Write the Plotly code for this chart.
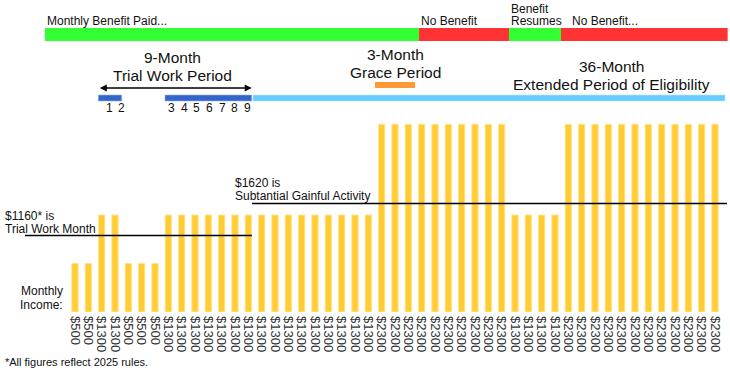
import plotly.graph_objects as go
import numpy as np

# ---------------- data ----------------
months = list(range(1, 50))
income = [500, 500, 1300, 1300, 500, 500, 500,
          1300, 1300, 1300, 1300, 1300, 1300, 1300, 1300,
          1300, 1300, 1300, 1300, 1300, 1300, 1300, 1300,
          2300, 2300, 2300, 2300, 2300, 2300, 2300, 2300, 2300, 2300,
          1300, 1300, 1300, 1300,
          2300, 2300, 2300, 2300, 2300, 2300, 2300, 2300, 2300, 2300, 2300, 2300]
tick_labels = [f"${v}" for v in income]

# schematic (not-to-scale) vertical scale used by the diagram
scale_dollars = [0, 500, 1160, 1300, 1620, 2300]
scale_height = [0, 1.0, 1.577, 2.0, 2.237, 3.87]

# threshold lines (value, month span)
threshold_values = [1160, 1620]
threshold_start = [-2.75, 14.27]
threshold_end = [14.27, 49.9]
threshold_text = [["$1160* is", "Trial Work Month"], ["$1620 is", "Subtantial Gainful Activity"]]

# benefit status strip (month spans)
status_labels = [["Monthly Benefit Paid..."], ["No Benefit"], ["Benefit", "Resumes"], ["No Benefit..."]]
status_start = [-1.25, 26.8, 33.55, 37.45]
status_end = [26.8, 33.55, 37.45, 49.95]
status_colors = ["#33FF33", "#FF3333", "#33FF33", "#FF3333"]

# periods (month spans)
twp_start = [2.75, 7.75]
twp_end = [4.5, 14.25]
twp_numbers = [["1", "2"], ["3", "4", "5", "6", "7", "8", "9"]]
grace_start, grace_end = 23.5, 26.5
epe_start, epe_end = 14.35, 49.75

# ---------------- figure ----------------
W, H = 730, 370
BASE = 312  # pixel row of the bar baseline (plot bottom)
FONT = "Liberation Sans, Arial, sans-serif"


def to_height(v):
    return np.interp(v, scale_dollars, scale_height)


def py(p):  # pixel row -> paper y
    return (BASE - p) / BASE


def pxx(p):  # pixel column -> paper x
    return p / W


fig = go.Figure()
fig.add_trace(go.Bar(
    x=months, y=to_height(income), width=0.47,
    marker=dict(color="#FFCC33", line=dict(color="#FFE38F", width=1)),
    hoverinfo="skip", showlegend=False))

shapes = []
ann = []


def text(x, y, s, size=12, xanchor="left", xref="paper", xshift=0):
    ann.append(dict(x=x, y=py(y), xref=xref, yref="paper", text=s, showarrow=False,
                    xanchor=xanchor, yanchor="middle", xshift=xshift,
                    font=dict(family=FONT, size=size, color="#111")))


# threshold lines
for v, a, b in zip(threshold_values, threshold_start, threshold_end):
    hv = float(to_height(v))
    shapes.append(dict(type="line", xref="x", yref="y", x0=a, x1=b, y0=hv, y1=hv,
                       line=dict(color="#000", width=1.3)))
text(pxx(3), 215.5, threshold_text[0][0])
text(pxx(3), 229, threshold_text[0][1])
text(pxx(233), 183, threshold_text[1][0])
text(pxx(233), 196, threshold_text[1][1])

# status strip
for a, b, c in zip(status_start, status_end, status_colors):
    shapes.append(dict(type="rect", xref="x", yref="paper", x0=a, x1=b, y0=py(41), y1=py(28),
                       fillcolor=c, line=dict(width=0), layer="above"))
shifts = [0, 0, 0, 9]
for a, lines, sh in zip(status_start, status_labels, shifts):
    if len(lines) == 1:
        text(a, 21, lines[0], xref="x", xshift=sh)
    else:
        text(a, 8.5, lines[0], xref="x", xshift=sh)
        text(a, 21, lines[1], xref="x", xshift=sh)

# trial work period bars, EPE and grace period
for a, b in zip(twp_start, twp_end):
    shapes.append(dict(type="rect", xref="x", yref="paper", x0=a, x1=b, y0=py(101), y1=py(95),
                       fillcolor="#3366CC", line=dict(color="#99B3E6", width=0.6), layer="above"))
shapes.append(dict(type="rect", xref="x", yref="paper", x0=epe_start, x1=epe_end, y0=py(101), y1=py(95),
                   fillcolor="#66CCFF", line=dict(color="#B3E6FF", width=0.6), layer="above"))
shapes.append(dict(type="rect", xref="x", yref="paper", x0=grace_start, x1=grace_end, y0=py(88), y1=py(82),
                   fillcolor="#FF9933", line=dict(width=0), layer="above"))

# double-headed arrow over the trial work period
ann.append(dict(x=twp_end[1], y=py(88), xref="x", yref="paper", ax=twp_start[0], ay=0,
                axref="x", ayref="pixel", text="", showarrow=True, arrowside="end+start",
                arrowhead=2, startarrowhead=2, arrowsize=1, startarrowsize=1,
                arrowwidth=1.4, arrowcolor="#000", standoff=0, startstandoff=0))

# month numbers
num_pos = [[109.3, 121.7], [171.7, 184.3, 196.9, 209.5, 222.1, 234.7, 247.3]]
for nums, poss in zip(twp_numbers, num_pos):
    for n, p in zip(nums, poss):
        text(pxx(p), 107.5, n, xanchor="center")

# period titles
text(pxx(172.5), 57.5, "9-Month", 15.5, "center")
text(pxx(172.5), 75.5, "Trial Work Period", 15.5, "center")
text(pxx(395), 54.5, "3-Month", 15.5, "center")
text(pxx(395), 72.5, "Grace Period", 15.5, "center")
text(pxx(611.5), 66, "36-Month", 15.5, "center")
text(pxx(611.5), 84, "Extended Period of Eligibility", 15.5, "center")

# y label & footnote
text(pxx(65), 291, "Monthly", 12, "right")
text(pxx(65), 305, "Income:", 12, "right")
text(pxx(3), 362, "*All figures reflect 2025 rules.", 11)

x0 = 1 - 75 / 13.3333
x1 = 1 + (W - 75) / 13.3333
fig.update_layout(
    width=W, height=H, margin=dict(l=0, r=0, t=0, b=H - BASE, autoexpand=False),
    paper_bgcolor="white", plot_bgcolor="white",
    shapes=shapes, annotations=ann, bargap=0,
    font=dict(family=FONT, size=12, color="#111"),
    xaxis=dict(range=[x0, x1], tickmode="array", tickvals=months, ticktext=tick_labels,
               tickangle=90, showgrid=False, zeroline=False, showline=False, ticks="",
               automargin=False, ticklabelstandoff=3,
               tickfont=dict(family=FONT, size=13, color="#333")),
    yaxis=dict(range=[0, BASE / 48.5], visible=False, fixedrange=True, automargin=False),
)
fig.write_html("out.html", config={"displayModeBar": False, "staticPlot": True},
               post_script="document.body.style.margin='0';document.body.style.padding='0';"
                           "document.body.style.overflow='hidden';")
